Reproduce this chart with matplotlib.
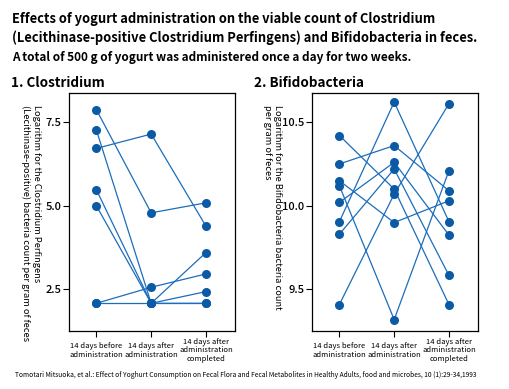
import matplotlib
matplotlib.use("Agg")
import matplotlib.pyplot as plt

plt.rcParams['font.family'] = ['Noto Sans CJK JP', 'DejaVu Sans']

periods = ["14 days before\nadministration",
           "14 days after\nadministration",
           "14 days after\nadministration\ncompleted"]

# one row per subject: before, after, completed
clostridium = [
    [7.88, 4.79, 5.09],
    [6.72, 7.15, 4.39],
    [7.27, 2.08, 3.60],
    [5.48, 2.08, 2.43],
    [5.00, 2.08, 2.08],
    [2.08, 2.56, 2.96],
    [2.08, 2.08, 2.08],
]
bifido = [
    [10.42, 10.10, 9.41],
    [10.25, 10.36, 10.09],
    [10.15, 9.90, 10.03],
    [10.12, 9.32, 10.21],
    [10.02, 10.26, 9.825],
    [9.905, 10.62, 9.905],
    [9.83, 10.22, 9.584],
    [9.41, 10.07, 10.61],
]
clos_ticks = [2.5, 5.0, 7.5]
bifi_ticks = [9.5, 10.0, 10.5]

W, H = 510, 389
fig = plt.figure(figsize=(W / 100, H / 100), dpi=100)

def px(x, y):
    return x / W, 1 - y / H

dot = '#0b5aa6'
line = '#1b6dbd'

def panel(left, rows, ticks, ylim):
    ax = fig.add_axes([left / W, 58 / H, 166 / W, 238 / H])
    for r in rows:
        ax.plot(range(3), r, color=line, lw=0.9, zorder=2)
        ax.plot(range(3), r, 'o', color=dot, ms=6.5, mec='none', zorder=3)
    ax.set_xlim(-0.5, 2.53)
    ax.set_ylim(*ylim)
    ax.set_yticks(ticks)
    ax.set_yticklabels([f"{t:.1f}" for t in ticks], fontsize=8, fontweight='medium')
    ax.set_xticks(range(3))
    ax.set_xticklabels(periods, fontsize=5.5, va='center', linespacing=1.15)
    ax.tick_params(axis='x', length=4, width=0.8, pad=10)
    ax.tick_params(axis='y', length=4, width=0.8, pad=1.5)
    for s in ax.spines.values():
        s.set_linewidth(0.9)
    return ax

panel(69, clostridium, clos_ticks, (1.25, 8.38))
panel(312, bifido, bifi_ticks, (9.252, 10.674))

fig.text(*px(12, 19), "Effects of yogurt administration on the viable count of Clostridium",
         fontsize=9.3, fontweight='bold', va='center')
fig.text(*px(12, 38), "(Lecithinase-positive Clostridium Perfingens) and Bifidobacteria in feces.",
         fontsize=9.3, fontweight='bold', va='center')
fig.text(*px(12, 57), "A total of 500 g of yogurt was administered once a day for two weeks.",
         fontsize=8.5, fontweight='bold', va='center')
fig.text(*px(11, 83), "1. Clostridium", fontsize=9.7, fontweight='bold', va='center')
fig.text(*px(254, 83), "2. Bifidobacteria", fontsize=9.7, fontweight='bold', va='center')

fig.text(*px(31, 105), "Logarithm for the Clostridium Perfingens\n(Lecithinase-positive) bacteria count per gram of feces",
         fontsize=6.7, rotation=-90, ha='center', va='top', multialignment='left', linespacing=1.1)
fig.text(*px(272.5, 105), "Logarithm for the Bifidobacteria bacteria count\nper gram of feces",
         fontsize=6.7, rotation=-90, ha='center', va='top', multialignment='left', linespacing=1.1)

fig.text(*px(15, 375), "Tomotari Mitsuoka, et al.: Effect of Yoghurt Consumption on Fecal Flora and Fecal Metabolites in Healthy Adults, food and microbes, 10 (1):29-34,1993",
         fontsize=4.8, va='center')

fig.savefig("out.png", dpi=100)
